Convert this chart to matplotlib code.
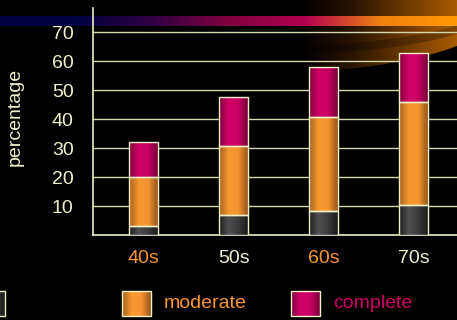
import numpy as np
import matplotlib
matplotlib.use("Agg")
import matplotlib.pyplot as plt
from matplotlib.colors import LinearSegmentedColormap
from matplotlib.patches import Rectangle, Ellipse

plt.rcParams['font.family'] = ['Liberation Sans', 'DejaVu Sans']

decades = ['40s', '50s', '60s', '70s']
mild = [3, 7, 8.2, 10.2]
moderate = [17, 23.7, 32.4, 35.7]
complete = [12, 17, 17.2, 17]
series_names = ['mild', 'moderate', 'complete']
label_colors = ['#f7962e', '#f0f0d0', '#f7962e', '#f0f0d0']

cream = '#f0f0c8'
cmaps = {
    'mild': LinearSegmentedColormap.from_list('d', ['#202020', '#505050', '#3a3a3a', '#1c1c1c']),
    'moderate': LinearSegmentedColormap.from_list('o', ['#a86020', '#f8982e', '#f49430', '#985418']),
    'complete': LinearSegmentedColormap.from_list('m', ['#80003c', '#d00068', '#c80064', '#78003a']),
}
text_colors = {'mild': cream, 'moderate': '#f7962e', 'complete': '#cc0066'}
grad = np.linspace(0, 1, 64).reshape(1, -1)

fig = plt.figure(figsize=(4.57, 3.2), dpi=100, facecolor='black')

# background decoration (pixel coords)
bg = fig.add_axes([0, 0, 1, 1])
bg.axis('off')
bg.set_facecolor('black')
band = LinearSegmentedColormap.from_list('band', ['#000040', '#000040', '#300040', '#800040', '#b00050', '#f08010', '#ff9900'])
swirl = LinearSegmentedColormap.from_list('sw', ['#000000', '#2a1400', '#6a3800', '#a85c00'])
swoosh = Ellipse((280, 0), 460, 144, facecolor='none', edgecolor='none')
bg.add_patch(swoosh)
im = bg.imshow(grad, extent=[300, 457, 80, 0], cmap=swirl, aspect='auto', zorder=1)
im.set_clip_path(swoosh)
bg.add_patch(Ellipse((280, 0), 440, 100, facecolor='none', edgecolor='black', linewidth=6, alpha=0.25, zorder=1.5))
bg.imshow(np.linspace(0, 1, 256).reshape(1, -1), extent=[0, 457, 26, 16], cmap=band, aspect='auto', zorder=2)

ax = fig.add_axes([93 / 457, 85 / 320, 1 - 93 / 457, 227 / 320])
ax.set_facecolor('none')
x = np.arange(len(decades))
w = 0.32
bottoms = np.zeros(len(decades))
for name, vals in zip(series_names, [mild, moderate, complete]):
    bars = ax.bar(x, vals, w, bottom=bottoms, color='none', edgecolor=cream, linewidth=1, zorder=4)
    for b in bars:
        x0, y0 = b.get_x(), b.get_y()
        im = ax.imshow(grad, extent=[x0, x0 + b.get_width(), y0, y0 + b.get_height()],
                       cmap=cmaps[name], aspect='auto', zorder=3)
        im.set_clip_path(b)
    bottoms = bottoms + np.array(vals)

ax.set_xlim(-0.56, 3.48)
ax.set_ylim(0, 78.3)
ax.set_yticks(range(10, 80, 10))
ax.yaxis.grid(True, color='#d8d8b0', linewidth=1)
ax.set_axisbelow(True)
ax.tick_params(axis='both', length=0, labelsize=14, colors=cream)
ax.tick_params(axis='y', pad=14)
ax.tick_params(axis='x', pad=11)
ax.set_xticks(x)
ax.set_xticklabels(decades)
for lab, c in zip(ax.get_xticklabels(), label_colors):
    lab.set_color(c)
for s in ['top', 'right']:
    ax.spines[s].set_visible(False)
for s in ['left', 'bottom']:
    ax.spines[s].set_color(cream)
    ax.spines[s].set_linewidth(1.2)
ax.set_ylabel('percentage', color=cream, fontsize=14)
ax.yaxis.set_label_coords(-0.19, 0.52)

# legend row (first label falls outside the picture)
leg_x = [-24, 122, 291]
for name, lx in zip(series_names, leg_x):
    r = Rectangle((lx, 291), 29, 25, facecolor='none', edgecolor=cream, linewidth=1, zorder=5)
    bg.add_patch(r)
    im = bg.imshow(grad, extent=[lx, lx + 29, 316, 291], cmap=cmaps[name], aspect='auto', zorder=4)
    im.set_clip_path(r)
    if lx > 0:
        bg.text(lx + 42, 303, name, color=text_colors[name], fontsize=14, va='center', ha='left', zorder=5)
bg.set_xlim(0, 457)
bg.set_ylim(320, 0)

fig.savefig('out.png', dpi=100, facecolor='black')
